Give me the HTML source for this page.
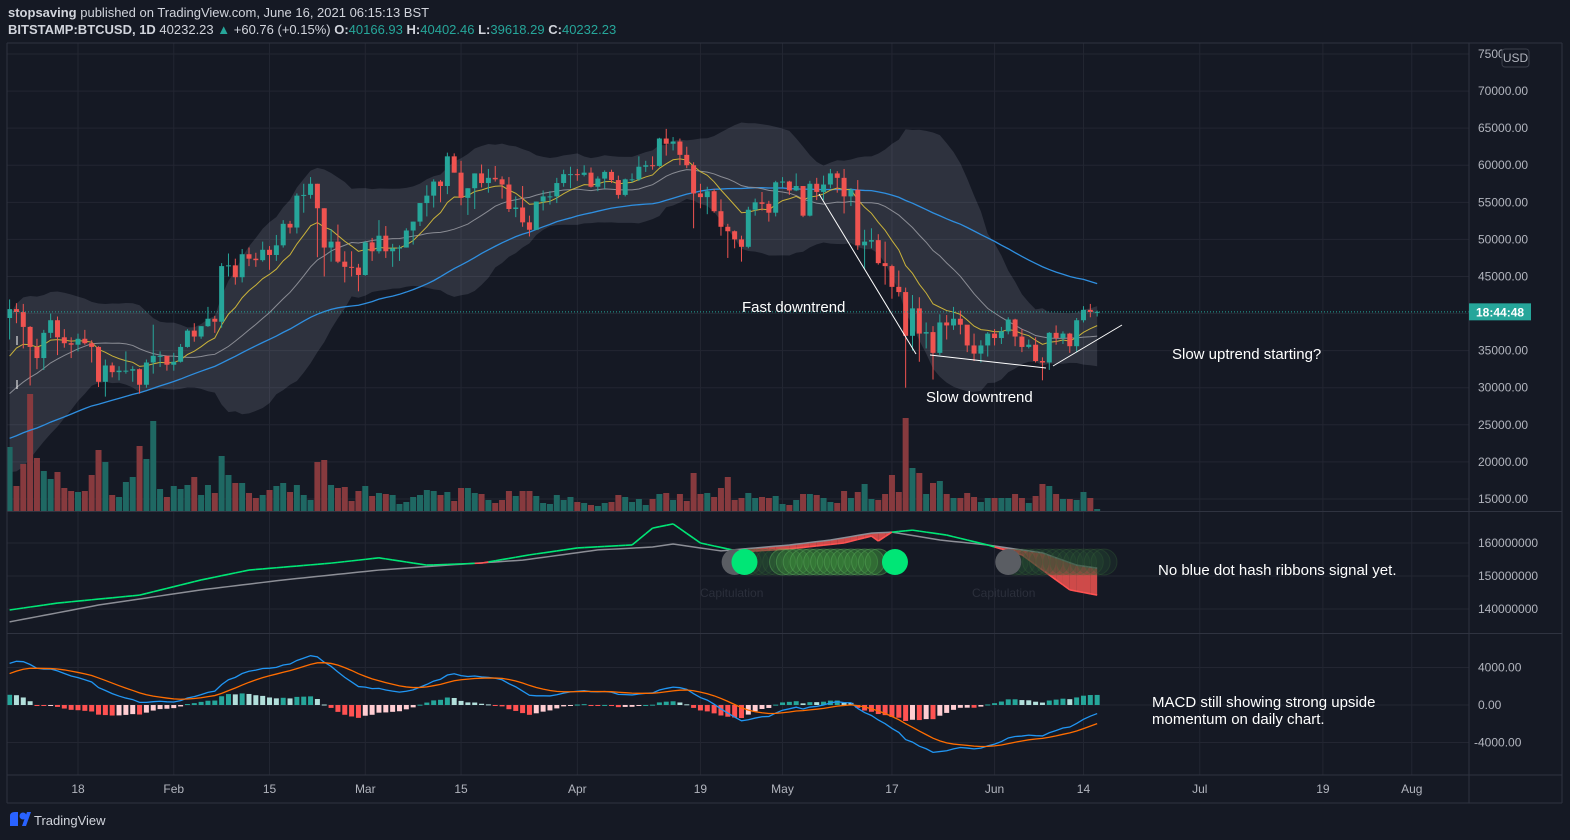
<!DOCTYPE html>
<html><head><meta charset="utf-8">
<style>
html,body{margin:0;padding:0;background:#151924;width:1570px;height:840px;overflow:hidden;font-family:"Liberation Sans",sans-serif;}
svg text{font-family:"Liberation Sans",sans-serif;}
</style></head>
<body>
<svg id="chart" width="1570" height="840" xmlns="http://www.w3.org/2000/svg">
<rect x="0" y="0" width="1570" height="840" fill="#151924"/>
<text x="8" y="17" font-size="13" fill="#d1d4dc"><tspan font-weight="bold">stopsaving</tspan> published on TradingView.com, June 16, 2021 06:15:13 BST</text>
<text x="8" y="34" font-size="13" fill="#d1d4dc"><tspan font-weight="bold">BITSTAMP:BTCUSD, 1D</tspan> 40232.23 <tspan fill="#26a69a">▲</tspan> +60.76 (+0.15%) <tspan font-weight="bold">O:</tspan><tspan fill="#26a69a">40166.93</tspan> <tspan font-weight="bold">H:</tspan><tspan fill="#26a69a">40402.46</tspan> <tspan font-weight="bold">L:</tspan><tspan fill="#26a69a">39618.29</tspan> <tspan font-weight="bold">C:</tspan><tspan fill="#26a69a">40232.23</tspan></text>
<g id="grid"></g>
<g id="main" clip-path="url(#mainclip)"></g>
<g id="hash" clip-path="url(#hashclip)"></g>
<g id="macd" clip-path="url(#macdclip)"></g>
<g id="axes"></g>
<defs>
<clipPath id="mainclip"><rect x="7" y="43" width="1462" height="468"/></clipPath>
<clipPath id="hashclip"><rect x="7" y="512" width="1462" height="121"/></clipPath>
<clipPath id="macdclip"><rect x="7" y="634" width="1462" height="140"/></clipPath>
</defs>
<g fill="#ffffff" font-size="15">
<text x="742" y="312">Fast downtrend</text>
<text x="926" y="402">Slow downtrend</text>
<text x="1172" y="359">Slow uptrend starting?</text>
<text x="1158" y="575">No blue dot hash ribbons signal yet.</text>
<text x="1152" y="707">MACD still showing strong upside</text>
<text x="1152" y="724">momentum on daily chart.</text>
</g>
<g stroke="#ffffff" stroke-width="1">
<line x1="819" y1="194" x2="916" y2="354"/>
<line x1="930" y1="355" x2="1046" y2="368"/>
<line x1="1053" y1="366" x2="1122" y2="325"/>
<line x1="17" y1="336" x2="17" y2="345"/>
<line x1="17" y1="380" x2="17" y2="389"/>
</g>
<g>
<path d="M10 826 L10 816 Q10 812 15 812 L18 812 L18 826 Z" fill="#2962ff"/>
<circle cx="23" cy="816" r="3.5" fill="#2962ff"/>
<path d="M22 826 L27 812 L31 812 L26 826 Z" fill="#2962ff"/>
<text x="34" y="825" font-size="13" fill="#d1d4dc">TradingView</text>
</g>
</svg>
<script>
// ---------- DATA ----------
const warmCloses = [17.8,18.6,18.7,18.4,18.4,19.1,18.7,17.1,17.1,17.7,18.2,19.7,18.8,19.2,19.4,18.7,19.2,19.1,19.4,18.3,18.6,18.3,18.6,18.8,19.2,19.4,21.3,22.8,23.1,23.8,23.5,22.7,23.2,23.7,24.7,26.4,26.3,27.1,27.4,28.9,29.0,29.4,32.2,33.0,32.0,34.0,36.8,39.4];
const closes = [40.6,40.2,38.2,35.5,34.0,37.4,39.1,36.8,36.0,35.8,36.6,36.0,35.5,30.8,33.0,32.1,32.3,32.3,32.5,30.4,33.4,34.3,34.3,33.1,33.5,35.5,37.7,36.9,38.3,39.3,38.9,46.4,46.5,44.9,48.0,47.4,47.2,48.6,47.9,49.2,52.1,51.6,55.9,56.0,57.5,54.2,48.9,49.7,47.0,46.3,46.2,45.2,49.6,48.4,50.5,48.4,48.8,48.9,51.2,52.4,54.9,55.9,57.8,57.2,61.2,59.0,55.6,56.9,58.9,57.6,58.3,58.1,57.4,54.1,54.3,52.3,51.3,55.1,55.8,55.8,57.6,58.8,58.8,58.7,59.0,57.1,58.2,59.1,58.0,56.0,58.1,58.1,59.8,60.0,59.9,63.6,62.9,63.2,61.4,60.0,56.2,55.7,56.5,53.8,51.7,51.1,50.0,49.0,54.0,55.0,54.8,53.6,57.7,57.8,56.6,57.2,53.2,57.5,56.4,57.4,58.9,58.3,55.8,56.7,49.2,49.7,49.9,46.8,46.4,43.6,42.9,37.0,40.7,37.3,37.5,34.7,38.8,38.4,39.3,38.5,35.7,34.6,35.7,37.3,36.7,37.6,39.2,36.9,35.5,35.8,33.6,33.4,37.4,36.7,37.3,35.6,39.1,40.5,40.2,40.23];
const highs = [41.9,41.4,41.3,38.3,36.6,37.8,40.0,39.6,37.9,36.8,37.3,37.8,36.4,35.6,33.8,33.4,32.9,34.9,32.9,32.6,33.8,38.5,34.9,34.3,34.7,35.9,37.9,38.7,38.3,40.9,39.7,46.8,48.1,47.4,48.7,48.9,48.2,49.7,49.1,50.6,52.6,52.5,56.2,57.5,58.4,57.5,54.2,51.4,52.0,48.4,48.4,46.7,49.8,50.2,52.6,51.8,49.4,49.2,51.5,52.4,54.9,57.3,58.1,58.0,61.7,61.6,60.6,56.9,58.9,60.1,59.5,59.9,58.5,58.4,55.8,57.2,53.2,55.1,56.6,56.5,58.3,59.4,59.8,59.5,60.0,59.7,58.5,59.3,59.4,58.6,58.2,58.9,61.2,60.6,61.2,63.7,64.9,63.8,63.6,62.5,60.4,57.5,57.1,56.8,55.4,52.1,51.2,50.5,54.4,55.5,56.4,55.2,57.9,58.4,57.9,58.9,57.2,57.9,58.3,58.6,59.5,59.2,59.5,56.9,58.0,51.3,51.5,50.7,49.7,46.6,45.8,43.5,42.5,42.2,38.8,38.3,39.9,39.8,40.9,40.4,38.0,37.3,36.4,37.5,37.9,38.2,39.5,39.3,37.9,36.5,36.8,34.1,37.5,38.4,37.6,37.4,39.4,41.0,41.3,40.4];
const lows = [36.5,38.7,35.3,30.3,32.5,32.4,36.7,34.4,35.4,34.0,34.9,35.8,33.4,30.1,28.8,31.4,31.0,31.9,30.8,29.2,30.0,31.9,32.8,32.3,32.3,33.4,35.4,36.2,36.6,38.2,37.4,38.1,45.0,43.9,44.2,46.4,46.3,47.0,45.9,47.1,48.9,50.8,50.8,53.6,55.5,47.6,45.0,47.0,46.8,44.2,45.0,43.0,45.1,47.1,48.1,47.5,46.3,47.1,48.9,49.3,51.8,53.1,54.3,55.0,56.1,59.0,54.6,53.3,54.1,57.0,56.3,57.8,55.5,53.7,53.0,51.7,50.4,51.3,53.9,54.7,54.9,57.1,56.9,57.9,58.5,57.0,56.5,56.8,57.6,55.5,55.8,57.7,57.9,59.1,59.4,59.8,61.3,62.0,60.0,59.6,51.5,54.2,53.4,53.6,50.5,47.5,48.8,47.0,48.8,53.2,53.9,52.4,53.1,57.0,56.0,56.5,53.0,53.1,55.3,55.3,56.9,56.3,53.5,54.5,48.6,46.0,48.8,46.6,43.9,42.0,42.3,30.0,35.0,33.5,35.3,31.1,34.4,36.5,37.8,37.2,34.8,33.6,33.4,34.2,35.7,35.9,37.2,35.6,34.8,35.3,33.4,31.0,32.4,35.8,35.9,34.7,34.8,38.8,39.5,39.6];
const volumes = [64,25,47,117,53,40,32,39,23,20,19,20,36,61,49,16,14,29,34,65,52,90,22,14,25,22,26,34,16,26,18,55,36,28,28,18,13,16,21,25,28,19,26,16,11,49,51,26,23,24,10,20,25,15,18,17,16,7,9,14,16,21,20,16,19,10,23,23,18,17,11,8,11,20,15,20,20,15,8,7,16,11,14,9,8,6,5,8,9,16,14,9,12,6,12,17,18,11,17,10,38,17,18,14,23,34,11,13,18,13,14,13,15,7,6,11,17,17,16,13,9,8,20,13,19,27,12,11,17,36,19,93,43,38,17,28,30,17,13,13,18,14,9,13,13,13,13,17,13,8,15,27,25,17,12,12,11,19,13,2];
const hashGreenIdx = [0,7,19,28,35,47,54,61,69,76,83,91,94,97,101,107,114,122,126,127,129,132,137,143,148,152,155,159];
const hashGreenVal = [139.7,141.8,144.2,148.8,151.8,153.9,155.5,153.3,153.9,156.4,158.5,159.4,164.5,165.8,160,157.3,158.2,160,162.1,160.6,163.3,163.9,162.4,159.4,156.4,150.3,145.8,144.2];
const hashGrayIdx = [0,13,28,40,54,64,75,86,94,97,104,114,120,126,129,136,143,151,156,159];
const hashGrayVal = [136.1,141.2,145.8,148.8,151.8,153.3,154.8,157.9,158.8,159.7,157.6,159.4,160.9,163,163.3,160.9,159.4,157,153.3,152.4];
const hashBuyDots = [107,129];
const hashGrayDots = [106,146];
const hashFaintGreen = [113,114,115,116,117,118,119,120,121,122,123,124,125,126,127];
const hashFaintDark = [108,109,110,111,112,147,148,149,150,151,152,153,154,155,156,157,158,159,160];
const priceTicks = [75000,70000,65000,60000,55000,50000,45000,40000,35000,30000,25000,20000,15000];
const hashTicks = [160,150,140];
const macdTicks = [4000,0,-4000];
const timeLabels = ["18","Feb","15","Mar","15","Apr","19","May","17","Jun","14","Jul","19","Aug"];
const timeIdx = [10,24,38,52,66,83,101,113,129,144,157,174,192,205];
const lastPrice = 40232.23;

// ---------- SCALES ----------
const NS='http://www.w3.org/2000/svg';
const X = i => 9.6 + i*6.84;
const Yp = p => 54 + (75 - p)/5*37.08;          // p in thousands
const Yh = v => 543 + (160 - v)*3.3;            // v in millions
const Ym = m => 705 - m*37.5/4000;
const Yv = v => 511 - v;
function mk(parent, tag, attrs){const e=document.createElementNS(NS,tag);for(const k in attrs)e.setAttribute(k,attrs[k]);parent.appendChild(e);return e;}
const gMain=document.getElementById('main'), gHash=document.getElementById('hash'), gMacd=document.getElementById('macd'), gGrid=document.getElementById('grid'), gAxes=document.getElementById('axes');

// ---------- GRID ----------
priceTicks.forEach(p=>{const l=mk(gGrid,'line',{x1:7,x2:1469,y1:Yp(p/1000),y2:Yp(p/1000),stroke:'#232632','stroke-width':1});

});
hashTicks.forEach(v=>{const l=mk(gGrid,'line',{x1:7,x2:1469,y1:Yh(v),y2:Yh(v),stroke:'#232632'});

});
macdTicks.forEach(v=>{const l=mk(gGrid,'line',{x1:7,x2:1469,y1:Ym(v),y2:Ym(v),stroke:'#232632'});

});
timeIdx.forEach(i=>{const l=mk(gGrid,'line',{x1:X(i),x2:X(i),y1:43,y2:775,stroke:'#232632'});

});

// ---------- INDICATORS ----------
const all = warmCloses.concat(closes); const W = warmCloses.length;
function sma(n,i){let s=0,c=0;for(let k=Math.max(0,i-n+1);k<=i;k++){s+=all[k];c++;}return s/c;}
function sd(n,i){const m=sma(n,i);let s=0,c=0;for(let k=Math.max(0,i-n+1);k<=i;k++){s+=(all[k]-m)**2;c++;}return Math.sqrt(s/c);}
function emaArr(arr,n){const a=2/(n+1);const out=[];let e=arr[0];arr.forEach((v,i)=>{e=i?a*v+(1-a)*e:v;out.push(e);});return out;}
const ema10 = emaArr(all,10);

// Bollinger band
let up=[],lo=[];
for(let i=0;i<closes.length;i++){const j=i+W;const m=sma(20,j),s=sd(20,j);up.push(X(i)+','+Yp(m+2*s));lo.unshift(X(i)+','+Yp(m-2*s));}
const band=mk(gMain,'polygon',{points:up.concat(lo).join(' '),fill:'rgba(200,205,225,0.14)'});



// volume
volumes.forEach((v,i)=>{const o=i?closes[i-1]:warmCloses[W-1];const isUp=closes[i]>=o;
const r=mk(gMain,'rect',{x:X(i)-3,y:Yv(v),width:6,height:v,fill:isUp?'#1f6863':'#873a3e'});

});

function line(g,pts,color,w,name){const p=mk(g,'polyline',{points:pts.join(' '),fill:'none',stroke:color,'stroke-width':w});

return p;}
line(gMain,closes.map((c,i)=>X(i)+','+Yp(sma(50,i+W))),'#2f8fe0',1.3,'sma-50-line');
line(gMain,closes.map((c,i)=>X(i)+','+Yp(sma(20,i+W))),'#8a8c94',1,'sma-20-line');
line(gMain,closes.map((c,i)=>X(i)+','+Yp(ema10[i+W])),'#c9b23a',1,'ema-10-line');

// candles
closes.forEach((c,i)=>{const o=i?closes[i-1]:warmCloses[W-1];const col=c>=o?'#26a69a':'#ef5350';
const w=mk(gMain,'line',{x1:X(i),x2:X(i),y1:Yp(highs[i]),y2:Yp(lows[i]),stroke:col,'stroke-width':1});


const t=Math.min(Yp(o),Yp(c)),h=Math.max(1,Math.abs(Yp(o)-Yp(c)));
const b=mk(gMain,'rect',{x:X(i)-2.5,y:t,width:5,height:h,fill:col});

});

// last price line
const pl=mk(gMain,'line',{x1:7,x2:1469,y1:Yp(lastPrice/1000),y2:Yp(lastPrice/1000),stroke:'#26a69a','stroke-dasharray':'1 2'});



// ---------- HASH RIBBONS ----------
function interp(ix,vals,i){if(i<=ix[0])return vals[0];for(let k=1;k<ix.length;k++){if(i<=ix[k]){const t=(i-ix[k-1])/(ix[k]-ix[k-1]);return vals[k-1]+t*(vals[k]-vals[k-1]);}}return vals[vals.length-1];}
const N=closes.length;
for(let i=0;i<N-1;i++){const g0=interp(hashGreenIdx,hashGreenVal,i),g1=interp(hashGreenIdx,hashGreenVal,i+1),s0=interp(hashGrayIdx,hashGrayVal,i),s1=interp(hashGrayIdx,hashGrayVal,i+1);
if(g0<s0||g1<s1){const f=mk(gHash,'polygon',{points:[X(i)+','+Yh(s0),X(i+1)+','+Yh(s1),X(i+1)+','+Yh(g1),X(i)+','+Yh(g0)].join(' '),fill:'rgba(239,83,80,0.85)'});

}}
const txt1=mk(gHash,'text',{x:700,y:597,fill:'#2b2f3b','font-size':12});txt1.textContent='Capitulation';


const txt2=mk(gHash,'text',{x:972,y:597,fill:'#2b2f3b','font-size':12});txt2.textContent='Capitulation';


line(gHash,closes.map((c,i)=>X(i)+','+Yh(interp(hashGrayIdx,hashGrayVal,i))),'#8c8e96',1.5,'hash-slow-ma');
for(let i=0;i<N-1;i++){const g0=interp(hashGreenIdx,hashGreenVal,i),g1=interp(hashGreenIdx,hashGreenVal,i+1),s0=interp(hashGrayIdx,hashGrayVal,i);
const s=mk(gHash,'line',{x1:X(i),y1:Yh(g0),x2:X(i+1),y2:Yh(g1),stroke:g0<s0?'#ff5252':'#00e676','stroke-width':1.6});

}
hashFaintDark.forEach(i=>{const c=mk(gHash,'circle',{cx:X(i),cy:562,r:13,fill:'rgba(40,80,50,0.25)',stroke:'rgba(60,110,60,0.3)'});

});
hashFaintGreen.forEach(i=>{const c=mk(gHash,'circle',{cx:X(i),cy:562,r:13,fill:'rgba(60,140,60,0.35)',stroke:'rgba(90,170,90,0.5)'});

});
hashGrayDots.forEach(i=>{const c=mk(gHash,'circle',{cx:X(i),cy:562,r:13,fill:'#5a5d63'});

});
hashBuyDots.forEach(i=>{const c=mk(gHash,'circle',{cx:X(i)+3,cy:562,r:13,fill:'#00e676'});

});

// ---------- MACD ----------
const e12=emaArr(all,12),e26=emaArr(all,26);const macd=all.map((v,i)=>(e12[i]-e26[i])*1000);const sig=emaArr(macd,9);
for(let i=0;i<N;i++){const j=i+W;const h=macd[j]-sig[j],hp=macd[j-1]-sig[j-1];
const col=h>=0?(h>=hp?'#26a69a':'#b2dfdb'):(h<hp?'#ff5252':'#ffcdd2');
const r=mk(gMacd,'rect',{x:X(i)-2.5,y:Math.min(Ym(h),Ym(0)),width:5,height:Math.max(1,Math.abs(Ym(h)-Ym(0))),fill:col});

}
line(gMacd,closes.map((c,i)=>X(i)+','+Ym(macd[i+W])),'#2196f3',1.3,'macd-line');
line(gMacd,closes.map((c,i)=>X(i)+','+Ym(sig[i+W])),'#ff6d00',1.3,'signal-line');

// ---------- AXES / FRAME ----------
[[7,43,1562,43],[7,43,7,803],[1469,43,1469,803],[7,511.5,1562,511.5],[7,633.5,1562,633.5],[7,775,1562,775],[7,803,1562,803],[1562,43,1562,803]].forEach(a=>{const l=mk(gAxes,'line',{x1:a[0],y1:a[1],x2:a[2],y2:a[3],stroke:'#2f3340'});

});
priceTicks.forEach(p=>{const t=mk(gAxes,'text',{x:1478,y:Yp(p/1000)+4,fill:'#b2b5be','font-size':12});t.textContent=p.toFixed(2);

});
hashTicks.forEach(v=>{const t=mk(gAxes,'text',{x:1478,y:Yh(v)+4,fill:'#b2b5be','font-size':12});t.textContent=String(v*1000000);

});
macdTicks.forEach(v=>{const t=mk(gAxes,'text',{x:v<0?1474:1478,y:Ym(v)+4,fill:'#b2b5be','font-size':12});t.textContent=v.toFixed(2);

});
timeLabels.forEach((s,k)=>{const t=mk(gAxes,'text',{x:X(timeIdx[k]),y:793,fill:'#b2b5be','font-size':12,'text-anchor':'middle'});t.textContent=s;

});
const ub=mk(gAxes,'rect',{x:1502,y:49,width:27,height:18,rx:3,fill:'#151924',stroke:'#3a3e4a'});


const ut=mk(gAxes,'text',{x:1515.5,y:62,fill:'#b2b5be','font-size':12,'text-anchor':'middle'});ut.textContent='USD';


const lb=mk(gAxes,'rect',{x:1469,y:Yp(lastPrice/1000)-8.5,width:62,height:17,fill:'#26a69a'});


const lt=mk(gAxes,'text',{x:1476,y:Yp(lastPrice/1000)+4.5,fill:'#ffffff','font-size':12,'font-weight':'bold'});lt.textContent='18:44:48';


</script>
</body></html>
